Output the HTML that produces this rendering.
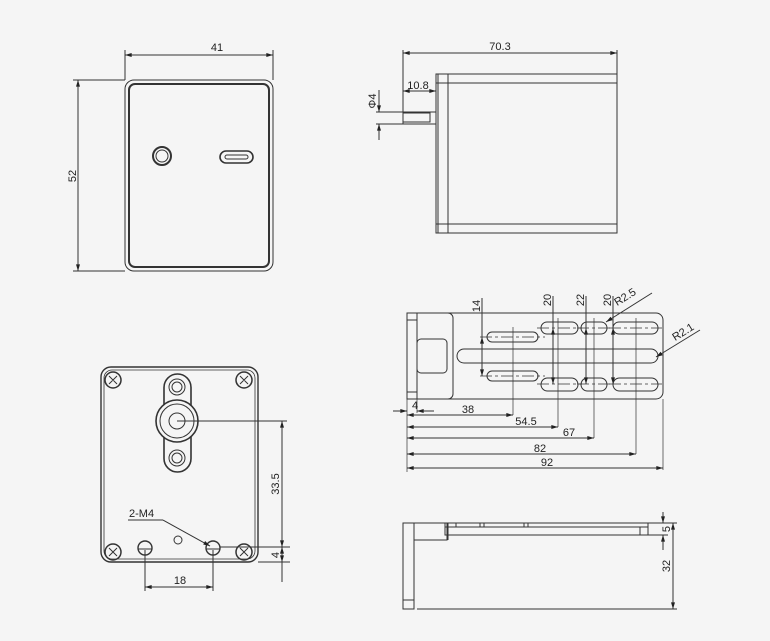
<!DOCTYPE html>
<html><head><meta charset="utf-8"><style>
html,body{margin:0;padding:0;background:#f5f5f5;}
svg{display:block;}
text{font-family:"Liberation Sans",sans-serif;font-size:11px;fill:#222;}
</style></head><body>
<svg width="770" height="641" viewBox="0 0 770 641" xmlns="http://www.w3.org/2000/svg">
<defs>
<marker id="a" viewBox="0 0 10 6" refX="10" refY="3" markerWidth="8" markerHeight="4" orient="auto-start-reverse" markerUnits="userSpaceOnUse"><path d="M0,0L10,3L0,6z" fill="#222"/></marker>
</defs>
<rect width="770" height="641" fill="#f5f5f5"/>
<g fill="none" stroke="#333" stroke-width="1">
<rect x="125" y="80" width="148" height="191" rx="9" stroke-width="1"/>
<rect x="129" y="84" width="140" height="183" rx="6" stroke-width="2"/>
<circle cx="162" cy="156" r="9" stroke-width="2"/>
<circle cx="162" cy="156" r="6"/>
<rect x="220" y="151" width="33" height="12" rx="6" stroke-width="1.6"/>
<rect x="225" y="155" width="23" height="4" rx="2"/>
<line x1="125" y1="50" x2="125" y2="80"/>
<line x1="273" y1="50" x2="273" y2="80"/>
<line x1="125" y1="55" x2="273" y2="55" marker-start="url(#a)" marker-end="url(#a)"/>
<line x1="73" y1="80" x2="125" y2="80"/>
<line x1="73" y1="271" x2="125" y2="271"/>
<line x1="78" y1="80" x2="78" y2="271" marker-start="url(#a)" marker-end="url(#a)"/>

<rect x="436" y="74" width="181" height="159"/>
<line x1="438" y1="74" x2="438" y2="233"/>
<line x1="448" y1="74" x2="448" y2="233"/>
<line x1="436" y1="83" x2="617" y2="83"/>
<line x1="436" y1="224" x2="617" y2="224"/>
<rect x="403" y="112" width="33" height="12"/>
<rect x="403" y="113" width="27" height="9"/>
<line x1="403" y1="50" x2="403" y2="112"/>
<line x1="617" y1="50" x2="617" y2="74"/>
<line x1="403" y1="53" x2="617" y2="53" marker-start="url(#a)" marker-end="url(#a)"/>
<line x1="403" y1="91" x2="436" y2="91" marker-start="url(#a)" marker-end="url(#a)"/>
<line x1="376" y1="112" x2="403" y2="112"/>
<line x1="376" y1="124" x2="403" y2="124"/>
<line x1="379" y1="90" x2="379" y2="112" marker-end="url(#a)"/>
<line x1="379" y1="140" x2="379" y2="124" marker-end="url(#a)"/>

<path d="M407,313 H656 a7,7 0 0 1 7,7 V392 a7,7 0 0 1 -7,7 H407 Z"/>
<path d="M407,313 H448 a5,5 0 0 1 5,5 V394 a5,5 0 0 1 -5,5 H407"/>
<line x1="417" y1="313" x2="417" y2="399"/>
<line x1="407" y1="320" x2="417" y2="320"/>
<line x1="407" y1="392" x2="417" y2="392"/>
<rect x="417" y="339" width="30" height="34" rx="4"/>
<rect x="457" y="349" width="201" height="14" rx="7"/>
<rect x="487" y="332" width="51" height="10" rx="5"/>
<rect x="487" y="371" width="51" height="10" rx="5"/>
<rect x="541" y="322" width="37" height="12" rx="6"/>
<rect x="581" y="322" width="26" height="12" rx="6"/>
<rect x="613" y="322" width="45" height="12" rx="6"/>
<rect x="541" y="378" width="37" height="13" rx="6.5"/>
<rect x="581" y="378" width="26" height="13" rx="6.5"/>
<rect x="613" y="378" width="45" height="13" rx="6.5"/>
<g stroke-width="0.7" stroke-dasharray="12,3,3,3">
<line x1="480" y1="337" x2="545" y2="337"/><line x1="480" y1="376" x2="545" y2="376"/>
<line x1="537" y1="328" x2="582" y2="328"/><line x1="577" y1="328" x2="611" y2="328"/><line x1="609" y1="328" x2="662" y2="328"/>
<line x1="537" y1="384" x2="582" y2="384"/><line x1="577" y1="384" x2="611" y2="384"/><line x1="609" y1="384" x2="662" y2="384"/>
</g>
<g stroke-width="0.7">
<line x1="513" y1="327" x2="513" y2="415"/>
<line x1="558" y1="318" x2="558" y2="427"/>
<line x1="594" y1="318" x2="594" y2="438"/>
<line x1="636" y1="318" x2="636" y2="454"/>
<line x1="663" y1="399" x2="663" y2="470"/>
<line x1="407" y1="399" x2="407" y2="472"/>
<line x1="417" y1="399" x2="417" y2="413"/>
</g>
<line x1="393" y1="411" x2="407" y2="411" marker-end="url(#a)"/>
<line x1="434" y1="411" x2="417" y2="411" marker-end="url(#a)"/>
<line x1="407" y1="415" x2="513" y2="415" marker-start="url(#a)" marker-end="url(#a)"/>
<line x1="407" y1="427" x2="558" y2="427" marker-start="url(#a)" marker-end="url(#a)"/>
<line x1="407" y1="438" x2="594" y2="438" marker-start="url(#a)" marker-end="url(#a)"/>
<line x1="407" y1="454" x2="636" y2="454" marker-start="url(#a)" marker-end="url(#a)"/>
<line x1="407" y1="468" x2="663" y2="468" marker-start="url(#a)" marker-end="url(#a)"/>
<line x1="482" y1="298" x2="482" y2="337"/>
<line x1="482" y1="337" x2="482" y2="376" marker-start="url(#a)" marker-end="url(#a)"/>
<line x1="553" y1="296" x2="553" y2="328"/>
<line x1="553" y1="328" x2="553" y2="384" marker-start="url(#a)" marker-end="url(#a)"/>
<line x1="586" y1="296" x2="586" y2="328"/>
<line x1="586" y1="328" x2="586" y2="384" marker-start="url(#a)" marker-end="url(#a)"/>
<line x1="613" y1="296" x2="613" y2="328"/>
<line x1="613" y1="328" x2="613" y2="384" marker-start="url(#a)" marker-end="url(#a)"/>
<line x1="652" y1="293" x2="606" y2="322" marker-end="url(#a)"/>
<line x1="700" y1="330" x2="656" y2="357" marker-end="url(#a)"/>

<rect x="403" y="523" width="11" height="86"/>
<line x1="403" y1="600" x2="414" y2="600"/>
<rect x="414" y="523" width="33" height="17"/>
<rect x="445" y="523" width="203" height="12"/>
<line x1="445" y1="527" x2="648" y2="527"/>
<line x1="448" y1="523" x2="448" y2="540"/>
<line x1="456" y1="523" x2="456" y2="527"/><line x1="480" y1="523" x2="480" y2="527"/><line x1="484" y1="523" x2="484" y2="527"/>
<line x1="524" y1="523" x2="524" y2="527"/><line x1="528" y1="523" x2="528" y2="527"/>
<line x1="640" y1="527" x2="640" y2="535"/>
<line x1="648" y1="523" x2="677" y2="523"/>
<line x1="648" y1="535" x2="668" y2="535"/>
<line x1="417" y1="609" x2="677" y2="609"/>
<line x1="673" y1="523" x2="673" y2="609" marker-start="url(#a)" marker-end="url(#a)"/>
<line x1="663" y1="512" x2="663" y2="523" marker-end="url(#a)"/>
<line x1="663" y1="550" x2="663" y2="535" marker-end="url(#a)"/>

<rect x="101" y="367" width="157" height="195" rx="10" stroke-width="1.4"/>
<rect x="104" y="370" width="151" height="189" rx="8" stroke-width="0.8"/>
<g stroke-width="1.5">
<circle cx="113" cy="380" r="8"/><circle cx="244" cy="380" r="8"/>
<circle cx="113" cy="552" r="8"/><circle cx="244" cy="552" r="8"/>
</g>
<path d="M109,376l8,8M117,376l-8,8M240,376l8,8M248,376l-8,8M109,548l8,8M117,548l-8,8M240,548l8,8M248,548l-8,8"/>
<rect x="164" y="374" width="27" height="98" rx="13.5" stroke-width="1.6"/>
<circle cx="177" cy="421" r="21" fill="#f5f5f5" stroke-width="1.6"/>
<circle cx="177" cy="421" r="17"/>
<circle cx="177" cy="421" r="8"/>
<circle cx="177" cy="387" r="8"/><circle cx="177" cy="387" r="5"/>
<circle cx="177" cy="458" r="8"/><circle cx="177" cy="458" r="5"/>
<circle cx="145" cy="548" r="7" stroke-width="1.4"/><line x1="138" y1="549" x2="152" y2="549"/>
<circle cx="213" cy="548" r="7" stroke-width="1.4"/><line x1="206" y1="549" x2="220" y2="549"/>
<circle cx="178" cy="540" r="4"/>
<line x1="177" y1="421" x2="287" y2="421"/>
<line x1="220" y1="547" x2="290" y2="547"/>
<line x1="258" y1="562" x2="290" y2="562"/>
<line x1="282" y1="421" x2="282" y2="547" marker-start="url(#a)" marker-end="url(#a)"/>
<line x1="282" y1="547" x2="282" y2="562" marker-start="url(#a)" marker-end="url(#a)"/>
<line x1="282" y1="562" x2="282" y2="582"/>
<line x1="145" y1="550" x2="145" y2="591"/>
<line x1="213" y1="550" x2="213" y2="591"/>
<line x1="145" y1="587" x2="213" y2="587" marker-start="url(#a)" marker-end="url(#a)"/>
<line x1="128" y1="520" x2="163" y2="520"/>
<line x1="163" y1="520" x2="210" y2="546" marker-end="url(#a)"/>
</g>
<g>
<text x="217" y="51" text-anchor="middle">41</text>
<text transform="translate(76,176) rotate(-90)" text-anchor="middle">52</text>
<text x="500" y="50" text-anchor="middle" font-size="10">70.3</text>
<text x="418" y="89" text-anchor="middle" font-size="10">10.8</text>
<text transform="translate(376,101) rotate(-90)" text-anchor="middle" font-size="10">Φ4</text>
<text transform="translate(480,306) rotate(-90)" text-anchor="middle" font-size="10">14</text>
<text transform="translate(551,300) rotate(-90)" text-anchor="middle" font-size="10">20</text>
<text transform="translate(584,300) rotate(-90)" text-anchor="middle" font-size="10">22</text>
<text transform="translate(611,300) rotate(-90)" text-anchor="middle" font-size="10">20</text>
<text transform="translate(627,300) rotate(-32)" text-anchor="middle" font-size="10">R2.5</text>
<text transform="translate(685,335) rotate(-32)" text-anchor="middle" font-size="10">R2.1</text>
<text x="412" y="409" font-size="10">4</text>
<text x="468" y="413" text-anchor="middle" font-size="10">38</text>
<text x="526" y="425" text-anchor="middle" font-size="10">54.5</text>
<text x="569" y="436" text-anchor="middle" font-size="10">67</text>
<text x="540" y="452" text-anchor="middle" font-size="10">82</text>
<text x="547" y="466" text-anchor="middle" font-size="10">92</text>
<text transform="translate(670,529) rotate(-90)" text-anchor="middle" font-size="10">5</text>
<text transform="translate(670,566) rotate(-90)" text-anchor="middle" font-size="10">32</text>
<text transform="translate(279,484) rotate(-90)" text-anchor="middle">33.5</text>
<text transform="translate(279,555) rotate(-90)" text-anchor="middle">4</text>
<text x="180" y="584" text-anchor="middle">18</text>
<text x="129" y="517">2-M4</text>
</g>
</svg>
</body></html>
